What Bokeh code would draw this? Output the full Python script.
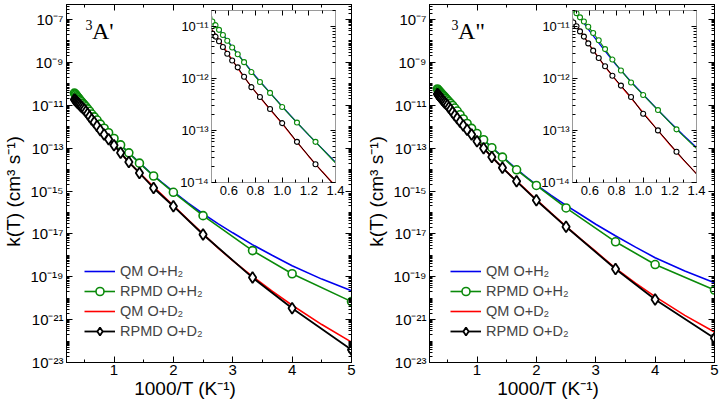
from bokeh.plotting import figure
from bokeh.models import (FixedTicker, CustomJSTickFormatter, LogAxis, LinearAxis,
                          Legend, LegendItem, Label)
from bokeh.layouts import row
from bokeh.embed import file_html
from bokeh.resources import INLINE

# ---------------- data (log10 of k(T) in cm^3 s^-1) ----------------
T_RPMD = [3000, 2900, 2800, 2700, 2600, 2500, 2400, 2300, 2200, 2100, 2000,
          1900, 1800, 1700, 1600, 1500, 1400, 1300, 1200, 1100, 1000,
          900, 800, 700, 600, 500, 400, 300, 250, 200]

# 3A' surface
A1_RPMD_H2 = [-10.43, -10.47, -10.51, -10.56, -10.61, -10.66, -10.72, -10.78, -10.84, -10.91, -10.98,
              -11.07, -11.17, -11.28, -11.41, -11.54, -11.69, -11.88, -12.07, -12.28, -12.55,
              -12.85, -13.22, -13.70, -14.30, -15.06, -16.15, -17.78, -18.86, -20.16]
A1_RPMD_D2 = [-10.73, -10.76, -10.80, -10.84, -10.88, -10.92, -10.97, -11.02, -11.08, -11.14, -11.20,
              -11.29, -11.40, -11.53, -11.66, -11.79, -11.97, -12.17, -12.36, -12.59, -12.86,
              -13.22, -13.65, -14.16, -14.86, -15.71, -17.03, -19.04, -20.47, -22.41]

# 3A'' surface
A2_RPMD_H2 = [-10.24, -10.28, -10.32, -10.36, -10.40, -10.45, -10.50, -10.55, -10.61, -10.68, -10.75,
              -10.83, -10.91, -11.01, -11.13, -11.27, -11.44, -11.64, -11.85, -12.08, -12.32,
              -12.61, -12.98, -13.42, -14.01, -14.74, -15.79, -17.37, -18.43, -19.62]
A2_RPMD_D2 = [-10.47, -10.51, -10.55, -10.59, -10.64, -10.69, -10.75, -10.81, -10.87, -10.93, -11.00,
              -11.10, -11.20, -11.33, -11.47, -11.61, -11.77, -11.95, -12.14, -12.36, -12.68,
              -13.00, -13.41, -13.92, -14.55, -15.43, -16.67, -18.64, -20.06, -21.87]

# QM curves, tabulated against 1000/T (K^-1)
X_QM = [0.45, 0.5, 0.6, 0.7, 0.8, 0.9, 1.0, 1.1, 1.2, 1.3, 1.4, 1.6, 1.8, 2.0,
        2.25, 2.5, 2.75, 3.0, 3.33, 3.67, 4.0, 4.5, 5.0]
A1_QM_H2 = [-10.80, -10.96, -11.31, -11.64, -11.96, -12.25, -12.54, -12.82, -13.09, -13.35, -13.61,
            -14.12, -14.58, -15.03, -15.57, -16.06, -16.52, -16.95, -17.50, -18.01, -18.49, -19.11, -19.65]
A1_QM_D2 = [-11.00, -11.16, -11.55, -11.93, -12.26, -12.57, -12.87, -13.19, -13.50, -13.79, -14.07,
            -14.62, -15.15, -15.68, -16.35, -17.00, -17.65, -18.25, -18.98, -19.68, -20.33, -21.23, -22.05]
A2_QM_H2 = [-10.60, -10.74, -11.10, -11.43, -11.75, -12.04, -12.31, -12.58, -12.84, -13.09, -13.33,
            -13.82, -14.28, -14.71, -15.21, -15.67, -16.11, -16.55, -17.09, -17.62, -18.11, -18.73, -19.28]
A2_QM_D2 = [-10.82, -10.98, -11.37, -11.73, -12.05, -12.35, -12.66, -12.97, -13.27, -13.56, -13.83,
            -14.36, -14.88, -15.40, -16.03, -16.65, -17.24, -17.82, -18.60, -19.30, -19.93, -20.80, -21.58]

LABELS = ["QM O+H\u2082", "RPMD O+H\u2082", "QM O+D\u2082", "RPMD O+D\u2082"]
PANEL_TITLES = [("3", "A'"), ("3", 'A"')]
X_LABEL = "1000/T (K\u207b\u00b9)"
Y_LABEL = "k(T) (cm\u00b3 s\u207b\u00b9)"

MAIN_X_TICKS = [1, 2, 3, 4, 5]
MAIN_X_MINOR = [0.5, 1.5, 2.5, 3.5, 4.5]
MAIN_Y_EXP = [-23, -21, -19, -17, -15, -13, -11, -9, -7]
INSET_X_TICKS = [0.6, 0.8, 1.0, 1.2, 1.4]
INSET_X_MINOR = [0.5, 0.7, 0.9, 1.1, 1.3]
INSET_Y_EXP = [-14, -13, -12, -11]

C_BLUE = "#0000ee"
C_GREEN = "#0a8a0a"
C_RED = "#ff0000"
C_BLACK = "#000000"
FONT = "Liberation Sans"
SERIF = "Liberation Serif"

FRAME_W = 285
FRAME_H = 358
NBSP = "\u00a0"

SUP_JS = """
const e = Math.round(Math.log10(tick));
const m = {"-":"\u207b","0":"\u2070","1":"\u00b9","2":"\u00b2","3":"\u00b3","4":"\u2074",
           "5":"\u2075","6":"\u2076","7":"\u2077","8":"\u2078","9":"\u2079"};
return "10" + String(e).split("").map(c => m[c]).join("");
"""
BLANK_JS = "return '';"


def log_minor(lo_exp, hi_exp, majors):
    out = []
    for n in range(lo_exp, hi_exp + 1):
        for k in range(1, 10):
            if k == 1 and n in majors:
                continue
            out.append(k * 10.0 ** n)
    return out


def style_axis(ax, size, major_in=6, minor_in=3, color="black", label=True):
    ax.major_tick_in = major_in
    ax.major_tick_out = 0
    ax.minor_tick_in = minor_in
    ax.minor_tick_out = 0
    ax.axis_line_color = color
    ax.major_tick_line_color = "black"
    ax.minor_tick_line_color = "black"
    ax.major_label_text_font = FONT
    ax.major_label_text_font_size = f"{size}px"
    ax.major_label_text_color = "black"
    ax.axis_label_text_font = FONT
    ax.axis_label_text_font_style = "normal"
    ax.axis_label_text_font_size = "19px"
    ax.axis_label_text_color = "black"
    if not label:
        ax.major_label_standoff = 0


def make_main(title, rh2, rd2, qh2, qd2, border_left, border_right, legend_x, title_x):
    xr = [1000.0 / t for t in T_RPMD]
    p = figure(frame_width=FRAME_W, frame_height=FRAME_H, x_range=(0.2, 5.0),
               y_range=(1e-23, 10 ** -6.3), y_axis_type="log",
               output_backend="svg", toolbar_location=None,
               min_border_left=border_left, min_border_right=border_right,
               min_border_top=2, min_border_bottom=42)
    p.grid.visible = False
    p.outline_line_color = "black"
    p.background_fill_color = "white"

    y_major = [10.0 ** e for e in MAIN_Y_EXP]
    y_minor = log_minor(-23, -7, MAIN_Y_EXP)
    yt = FixedTicker(ticks=y_major, minor_ticks=y_minor)
    xt = FixedTicker(ticks=MAIN_X_TICKS, minor_ticks=MAIN_X_MINOR)

    p.xaxis.ticker = xt
    p.yaxis.ticker = yt
    p.yaxis.formatter = CustomJSTickFormatter(code=SUP_JS)
    for ax in p.xaxis + p.yaxis:
        style_axis(ax, 15)
    p.xaxis.major_label_standoff = 2
    p.yaxis.major_label_standoff = 3
    # trailing no-break spaces shift the centred titles as in the original figure
    p.xaxis.axis_label = X_LABEL + NBSP * 9
    p.yaxis.axis_label = Y_LABEL + NBSP * 3
    p.xaxis.axis_label_standoff = 0
    p.yaxis.axis_label_standoff = 3

    ra = LogAxis(ticker=yt, formatter=CustomJSTickFormatter(code=BLANK_JS))
    style_axis(ra, 1, label=False)
    p.add_layout(ra, "right")
    ta = LinearAxis(ticker=xt, formatter=CustomJSTickFormatter(code=BLANK_JS))
    style_axis(ta, 1, label=False)
    p.add_layout(ta, "above")

    r_qh2 = p.line(X_QM, [10 ** v for v in qh2], color=C_BLUE, line_width=1.6)
    r_gl = p.line(xr, [10 ** v for v in rh2], color=C_GREEN, line_width=1.6)
    r_gs = p.scatter(xr, [10 ** v for v in rh2], marker="circle", size=8,
                     line_color=C_GREEN, fill_color="white", line_width=1.6)
    r_qd2 = p.line(X_QM, [10 ** v for v in qd2], color=C_RED, line_width=1.6)
    r_bl = p.line(xr, [10 ** v for v in rd2], color=C_BLACK, line_width=1.8)
    r_bs = p.scatter(xr, [10 ** v for v in rd2], marker="diamond", size=11,
                     line_color=C_BLACK, fill_color="white", line_width=1.8)

    legend = Legend(items=[
        LegendItem(label=LABELS[0], renderers=[r_qh2]),
        LegendItem(label=LABELS[1], renderers=[r_gl, r_gs]),
        LegendItem(label=LABELS[2], renderers=[r_qd2]),
        LegendItem(label=LABELS[3], renderers=[r_bl, r_bs]),
    ], location=(legend_x, 21))
    legend.background_fill_alpha = 0
    legend.border_line_alpha = 0
    legend.padding = 0
    legend.margin = 0
    legend.spacing = 0
    legend.label_height = 20
    legend.glyph_height = 20
    legend.glyph_width = 31
    legend.label_standoff = 5
    legend.label_text_font = FONT
    legend.label_text_font_size = "14.5px"
    p.add_layout(legend)

    sup, main = title
    p.add_layout(Label(x=title_x, y=FRAME_H - 25, x_units="screen", y_units="screen", text=sup,
                       text_font=SERIF, text_font_size="14px", text_color="black"))
    p.add_layout(Label(x=title_x + 6.5, y=FRAME_H - 39, x_units="screen", y_units="screen", text=main,
                       text_font=SERIF, text_font_size="24px", text_color="black"))
    return p


def make_inset(rh2, rd2, qh2, qd2):
    xr = [1000.0 / t for t in T_RPMD]
    q = figure(frame_width=124, frame_height=172, x_range=(0.47, 1.4),
               y_range=(1e-14, 2e-11), y_axis_type="log",
               output_backend="svg", toolbar_location=None,
               min_border_left=40, min_border_right=10,
               min_border_top=4, min_border_bottom=22)
    q.grid.visible = False
    q.outline_line_color = "#9a9a9a"
    q.background_fill_color = "white"
    q.border_fill_alpha = 0

    yt = FixedTicker(ticks=[10.0 ** e for e in INSET_Y_EXP],
                     minor_ticks=log_minor(-14, -11, INSET_Y_EXP))
    xt = FixedTicker(ticks=INSET_X_TICKS, minor_ticks=INSET_X_MINOR)
    q.xaxis.ticker = xt
    q.yaxis.ticker = yt
    q.yaxis.formatter = CustomJSTickFormatter(code=SUP_JS)
    q.xaxis.formatter = CustomJSTickFormatter(code="return tick.toFixed(1);")
    for ax in q.xaxis + q.yaxis:
        style_axis(ax, 13, major_in=5, minor_in=3, color="#9a9a9a")
        ax.major_label_standoff = 3
    ra = LogAxis(ticker=yt, formatter=CustomJSTickFormatter(code=BLANK_JS))
    style_axis(ra, 1, major_in=5, minor_in=3, color="#9a9a9a", label=False)
    q.add_layout(ra, "right")
    ta = LinearAxis(ticker=xt, formatter=CustomJSTickFormatter(code=BLANK_JS))
    style_axis(ta, 1, major_in=5, minor_in=3, color="#9a9a9a", label=False)
    q.add_layout(ta, "above")

    q.line(X_QM, [10 ** v for v in qh2], color=C_BLUE, line_width=1.3)
    q.line(xr, [10 ** v for v in rh2], color=C_GREEN, line_width=1.1)
    q.scatter(xr, [10 ** v for v in rh2], marker="circle", size=5,
              line_color=C_GREEN, fill_color="white", line_width=1.1)
    q.line(X_QM, [10 ** v for v in qd2], color=C_RED, line_width=1.3)
    q.line(xr, [10 ** v for v in rd2], color=C_BLACK, line_width=1.0)
    q.scatter(xr, [10 ** v for v in rd2], marker="circle", size=5,
              line_color=C_BLACK, fill_color="white", line_width=1.1)
    return q


p1 = make_main(PANEL_TITLES[0], A1_RPMD_H2, A1_RPMD_D2, A1_QM_H2, A1_QM_D2,
               border_left=65, border_right=7, legend_x=18, title_x=19)
p2 = make_main(PANEL_TITLES[1], A2_RPMD_H2, A2_RPMD_D2, A2_QM_H2, A2_QM_D2,
               border_left=71, border_right=6, legend_x=21, title_x=22)
i1 = make_inset(A1_RPMD_H2, A1_RPMD_D2, A1_QM_H2, A1_QM_D2)
i2 = make_inset(A2_RPMD_H2, A2_RPMD_D2, A2_QM_H2, A2_QM_D2)

i1.styles = {"position": "absolute", "left": "171px", "top": "6px"}
i2.styles = {"position": "absolute", "left": "532px", "top": "6px"}

lay = row(p1, p2, i1, i2)
lay.styles = {"position": "relative"}

html = file_html(lay, INLINE)
open("out.html", "w").write(html)
